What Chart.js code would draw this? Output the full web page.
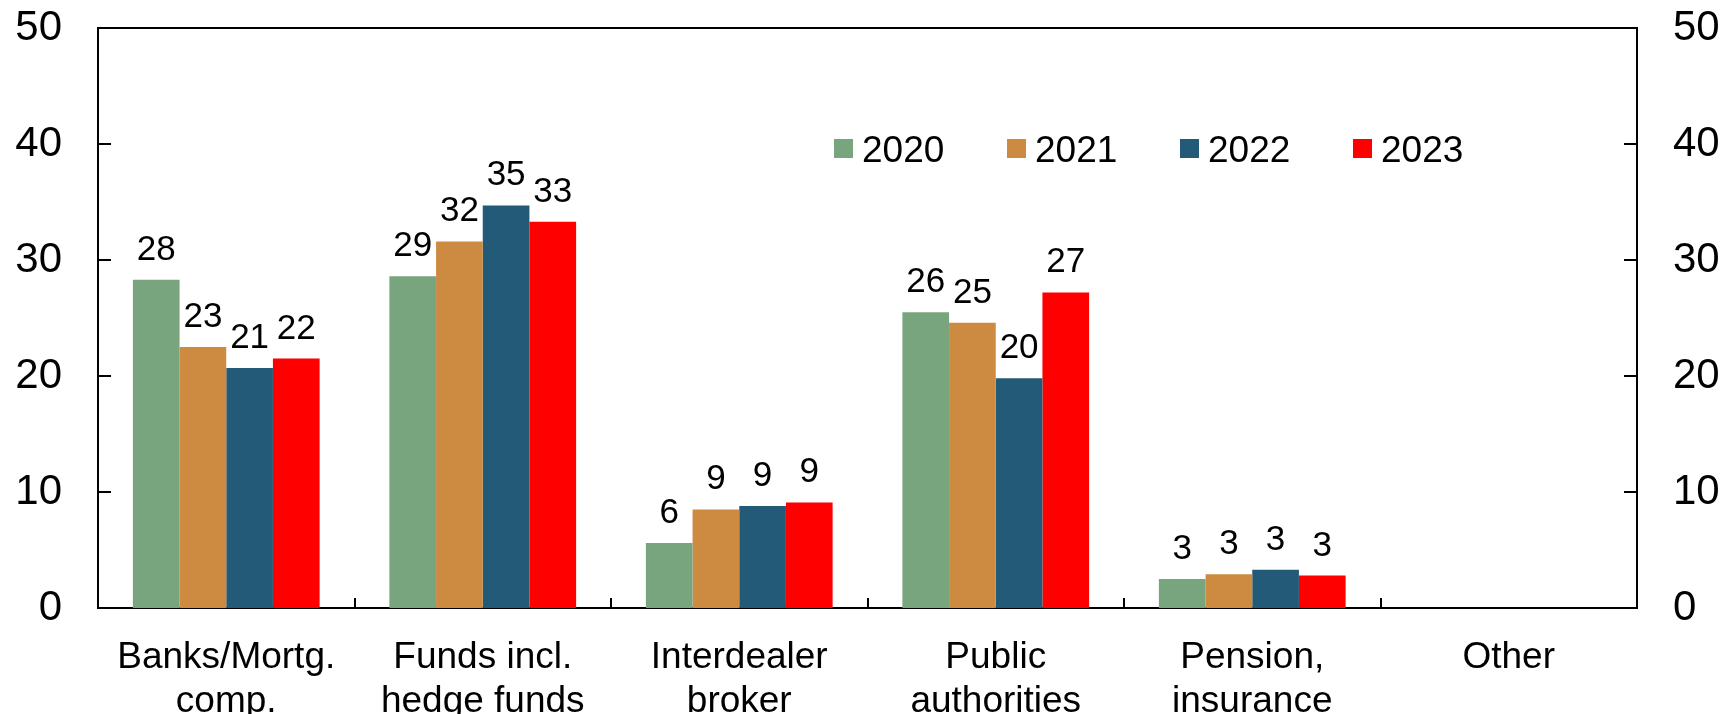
<!DOCTYPE html>
<html>
<head>
<meta charset="utf-8">
<script src="https://cdn.jsdelivr.net/npm/chart.js@4/dist/chart.umd.min.js"></script>
<style>
  html, body { margin: 0; padding: 0; background: #fff; }
  #wrap { width: 1725px; height: 714px; position: relative; }
</style>
</head>
<body>
<div id="wrap"><canvas id="chart"></canvas></div>
<script>
// categories and series values
const categories = [
  ['Banks/Mortg.', 'comp.'],
  ['Funds incl.', 'hedge funds'],
  ['Interdealer', 'broker'],
  ['Public', 'authorities'],
  ['Pension,', 'insurance'],
  'Other'
];
const years = ['2020', '2021', '2022', '2023'];
const values2020 = [28.3, 28.6, 5.6, 25.5, 2.5, null];
const values2021 = [22.5, 31.6, 8.5, 24.6, 2.9, null];
const values2022 = [20.7, 34.7, 8.8, 19.8, 3.3, null];
const values2023 = [21.5, 33.3, 9.1, 27.2, 2.8, null];
const yTicks = [0, 10, 20, 30, 40, 50];

const colors = ['#78a57d', '#cd8b42', '#235a78', '#ff0000'];
const series = [values2020, values2021, values2022, values2023];

Chart.defaults.font.family = '"Liberation Sans", Arial, sans-serif';
Chart.defaults.color = '#000';

// value labels, inward ticks, top frame line and the legend inside the plot
const extras = {
  id: 'extras',
  afterDatasetsDraw(chart) {
    const ctx = chart.ctx;
    const area = chart.chartArea;
    const y = chart.scales.y;

    ctx.save();
    ctx.strokeStyle = '#000';
    ctx.lineWidth = 2;
    ctx.beginPath();
    ctx.moveTo(area.left, area.top);
    ctx.lineTo(area.right, area.top);
    yTicks.forEach(t => {
      const py = y.getPixelForValue(t);
      ctx.moveTo(area.left, py);
      ctx.lineTo(area.left + 13, py);
      ctx.moveTo(area.right, py);
      ctx.lineTo(area.right - 13, py);
    });
    const catW = (area.right - area.left) / categories.length;
    for (let i = 1; i < categories.length; i++) {
      const px = Math.round(area.left + i * catW);
      ctx.moveTo(px, area.bottom);
      ctx.lineTo(px, area.bottom - 10);
    }
    ctx.stroke();

    // bar value labels
    ctx.fillStyle = '#000';
    ctx.font = '35px "Liberation Sans", Arial, sans-serif';
    ctx.textAlign = 'center';
    ctx.textBaseline = 'alphabetic';
    chart.data.datasets.forEach((ds, di) => {
      const meta = chart.getDatasetMeta(di);
      meta.data.forEach((bar, i) => {
        const v = ds.data[i];
        if (v === null || v === undefined) return;
        ctx.fillText(String(Math.round(v)), bar.x, bar.y - 20);
      });
    });

    // legend
    ctx.font = '37px "Liberation Sans", Arial, sans-serif';
    ctx.textAlign = 'left';
    const lx0 = area.left + 736;
    chart.data.datasets.forEach((ds, di) => {
      const lx = lx0 + di * 173;
      ctx.fillStyle = ds.backgroundColor;
      ctx.fillRect(lx, 139, 19, 19);
      ctx.fillStyle = '#000';
      ctx.fillText(ds.label, lx + 28, 162);
    });
    ctx.restore();
  }
};

function noPad(scale) {
  scale.paddingTop = 0;
  scale.paddingBottom = 0;
  scale.paddingLeft = 0;
  scale.paddingRight = 0;
}

new Chart(document.getElementById('chart'), {
  type: 'bar',
  data: {
    labels: categories,
    datasets: series.map((vals, i) => ({
      label: years[i],
      data: vals,
      backgroundColor: colors[i],
      borderWidth: 0,
      categoryPercentage: 0.728,
      barPercentage: 1.0
    }))
  },
  options: {
    responsive: true,
    maintainAspectRatio: false,
    animation: false,
    layout: { padding: { top: 28, left: 0, right: 0, bottom: 0 } },
    plugins: {
      legend: { display: false },
      tooltip: { enabled: false }
    },
    scales: {
      x: {
        grid: { display: false, drawTicks: false },
        border: { display: true, color: '#000', width: 2 },
        ticks: {
          font: { size: 37, lineHeight: 1.19 },
          color: '#000',
          padding: 28,
          maxRotation: 0,
          autoSkip: false
        },
        afterFit(scale) { scale.height = 106; noPad(scale); }
      },
      y: {
        position: 'left',
        min: 0,
        max: 50,
        grid: { display: false, drawTicks: false },
        border: { display: true, color: '#000', width: 2 },
        ticks: { font: { size: 42 }, color: '#000', padding: 36 },
        afterBuildTicks(scale) { scale.ticks = yTicks.map(v => ({ value: v })); },
        afterFit(scale) { scale.width = 98; noPad(scale); }
      },
      y2: {
        position: 'right',
        min: 0,
        max: 50,
        grid: { display: false, drawTicks: false },
        border: { display: true, color: '#000', width: 2 },
        ticks: { font: { size: 42 }, color: '#000', padding: 36 },
        afterBuildTicks(scale) { scale.ticks = yTicks.map(v => ({ value: v })); },
        afterFit(scale) { scale.width = 88; noPad(scale); }
      }
    }
  },
  plugins: [extras]
});
</script>
</body>
</html>
